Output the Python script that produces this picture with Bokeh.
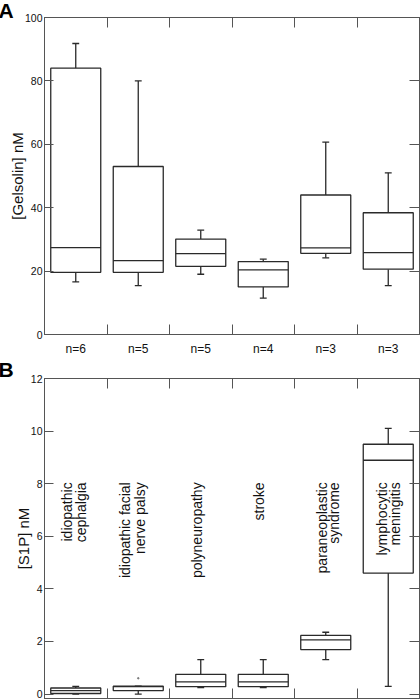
import numpy as np
from bokeh.plotting import figure
from bokeh.layouts import column
from bokeh.models import FixedTicker, LinearAxis, ColumnDataSource
from bokeh.core.properties import value
from bokeh.embed import file_html
from bokeh.resources import INLINE

# ---------------- data ----------------
categories = ["idiopathic cephalgia", "idiopathic facial nerve palsy", "polyneuropathy",
              "stroke", "paraneoplastic syndrome", "lymphocytic meningitis"]
n_labels = ["n=6", "n=5", "n=5", "n=4", "n=3", "n=3"]

# Panel A: gelsolin (nM)
a_low = [16.6, 15.4, 19.0, 11.5, 24.2, 15.4]
a_q1 = [19.6, 19.6, 21.5, 15.0, 25.6, 20.6]
a_med = [27.4, 23.3, 25.5, 20.4, 27.3, 25.8]
a_q3 = [84.0, 53.0, 30.1, 23.0, 44.0, 38.4]
a_high = [91.8, 80.0, 32.9, 23.75, 60.7, 51.0]

# Panel B: S1P (nM)
b_low = [0.0, 0.0, 0.24, 0.24, 1.31, 0.29]
b_q1 = [0.02, 0.13, 0.28, 0.28, 1.69, 4.6]
b_med = [0.13, 0.28, 0.46, 0.46, 2.06, 8.89]
b_q3 = [0.23, 0.30, 0.75, 0.75, 2.23, 9.5]
b_high = [0.29, 0.30, 1.31, 1.31, 2.35, 10.1]
b_outlier_cat = [1]
b_outlier_val = [0.6]

a_ticks = [0, 20, 40, 60, 80, 100]
b_ticks = [0, 2, 4, 6, 8, 10, 12]

# category label lines in panel B (index of category, text)
label_lines = [(0, "idiopathic"), (0, "cephalgia"),
               (1, "idiopathic facial"), (1, "nerve palsy"),
               (2, "polyneuropathy"),
               (3, "stroke"),
               (4, "paraneoplastic"), (4, "syndrome"),
               (5, "lymphocytic"), (5, "meningitis")]
# layout: horizontal offset of each line from the category center
label_dx = [-0.148, 0.076, -0.22, 0.02, -0.06, -0.076, -0.068, 0.124, -0.108, 0.10]
label_top = 8.05

FONT = "Liberation Sans"
FRAME = "#555555"
BOX = "#2a2a2a"

xc = np.arange(len(categories)) + 0.5
bounds = list(range(1, len(categories)))


def inner_axis(ticks, length=10):
    ax = LinearAxis(ticker=FixedTicker(ticks=ticks))
    ax.major_tick_in = length
    ax.major_tick_out = 0
    ax.minor_tick_in = 0
    ax.minor_tick_out = 0
    ax.axis_line_color = FRAME
    ax.major_tick_line_color = FRAME
    ax.major_label_text_font_size = "1px"
    ax.major_label_text_color = None
    ax.major_label_standoff = 0
    return ax


def style_axes(p, yticks, inner_right):
    ax = p.yaxis[0]
    ax.ticker = FixedTicker(ticks=yticks)
    ax.major_tick_in = 9
    ax.major_tick_out = 0
    ax.minor_tick_in = 0
    ax.minor_tick_out = 0
    ax.axis_line_color = FRAME
    ax.major_tick_line_color = FRAME
    ax.major_label_text_font = FONT
    ax.major_label_text_font_size = "10.5px"
    ax.major_label_text_color = "#111111"
    ax.major_label_standoff = 2
    ax.axis_label_text_font = FONT
    ax.axis_label_text_font_size = "15px"
    ax.axis_label_text_font_style = "normal"
    ax.axis_label_text_color = "#111111"
    ax.axis_label_standoff = -4

    p.add_layout(inner_axis(inner_right), "right")
    p.add_layout(inner_axis(bounds), "above")


def draw_boxes(p, low, q1, med, q3, high):
    src = ColumnDataSource(dict(x=xc, left=xc - 0.4, right=xc + 0.4,
                                low=low, q1=q1, med=med, q3=q3, high=high,
                                cl=xc - 0.055, cr=xc + 0.055))
    lw = 1.3
    p.segment(x0="x", y0="q3", x1="x", y1="high", source=src, line_color=BOX, line_width=lw)
    p.segment(x0="x", y0="q1", x1="x", y1="low", source=src, line_color=BOX, line_width=lw)
    p.segment(x0="cl", y0="high", x1="cr", y1="high", source=src, line_color=BOX, line_width=lw)
    p.segment(x0="cl", y0="low", x1="cr", y1="low", source=src, line_color=BOX, line_width=lw)
    p.quad(left="left", right="right", bottom="q1", top="q3", source=src,
           fill_color="white", line_color=BOX, line_width=lw)
    p.segment(x0="left", y0="med", x1="right", y1="med", source=src, line_color=BOX, line_width=lw)


def panel_letter(p, text, standoff):
    t = p.title
    t.text = text
    t.align = "left"
    t.offset = -46
    t.standoff = standoff
    t.text_font = FONT
    t.text_font_size = "21px"
    t.text_font_style = "bold"
    t.text_color = "black"


# ---------------- panel A ----------------
pa = figure(width=420, height=358, x_range=(0, 6), y_range=(0, 100),
            output_backend="svg", toolbar_location=None,
            min_border_left=44, min_border_right=1, min_border_top=0, min_border_bottom=23)
pa.grid.visible = False
pa.outline_line_color = FRAME
pa.yaxis.axis_label = "[Gelsolin] nM"

xa = pa.xaxis[0]
xa.ticker = FixedTicker(ticks=list(xc), minor_ticks=bounds)
xa.major_label_overrides = {float(x): s for x, s in zip(xc, n_labels)}
xa.major_tick_in = 0
xa.major_tick_out = 0
xa.minor_tick_in = 10
xa.minor_tick_out = 0
xa.axis_line_color = FRAME
xa.minor_tick_line_color = FRAME
xa.major_label_text_font = FONT
xa.major_label_text_font_size = "12px"
xa.major_label_text_color = "#111111"
xa.major_label_standoff = 7

style_axes(pa, a_ticks, a_ticks)
draw_boxes(pa, a_low, a_q1, a_med, a_q3, a_high)
panel_letter(pa, "A", -8)

# ---------------- panel B ----------------
pb = figure(width=420, height=342, x_range=(0, 6), y_range=(-0.17, 12),
            output_backend="svg", toolbar_location=None,
            min_border_left=44, min_border_right=1, min_border_top=0, min_border_bottom=2)
pb.grid.visible = False
pb.outline_line_color = FRAME
pb.yaxis.axis_label = "[S1P] nM"

pb.xaxis[0].visible = False
pb.add_layout(inner_axis(bounds), "below")

style_axes(pb, b_ticks, b_ticks)
draw_boxes(pb, b_low, b_q1, b_med, b_q3, b_high)
pb.scatter(x=[xc[i] for i in b_outlier_cat], y=b_outlier_val, size=1.5,
           color="#777777")

lab_x = [xc[c] + dx for (c, _), dx in zip(label_lines, label_dx)]
lab_t = [t for _, t in label_lines]
pb.text(x=lab_x, y=[label_top] * len(lab_t), text=lab_t, angle=np.pi / 2,
        text_align="right", text_baseline="middle", text_font=value(FONT),
        text_font_size="14px", text_color="#111111")
panel_letter(pb, "B", -5)

layout = column(pa, pb, spacing=0)
open("out.html", "w").write(file_html(layout, INLINE))
